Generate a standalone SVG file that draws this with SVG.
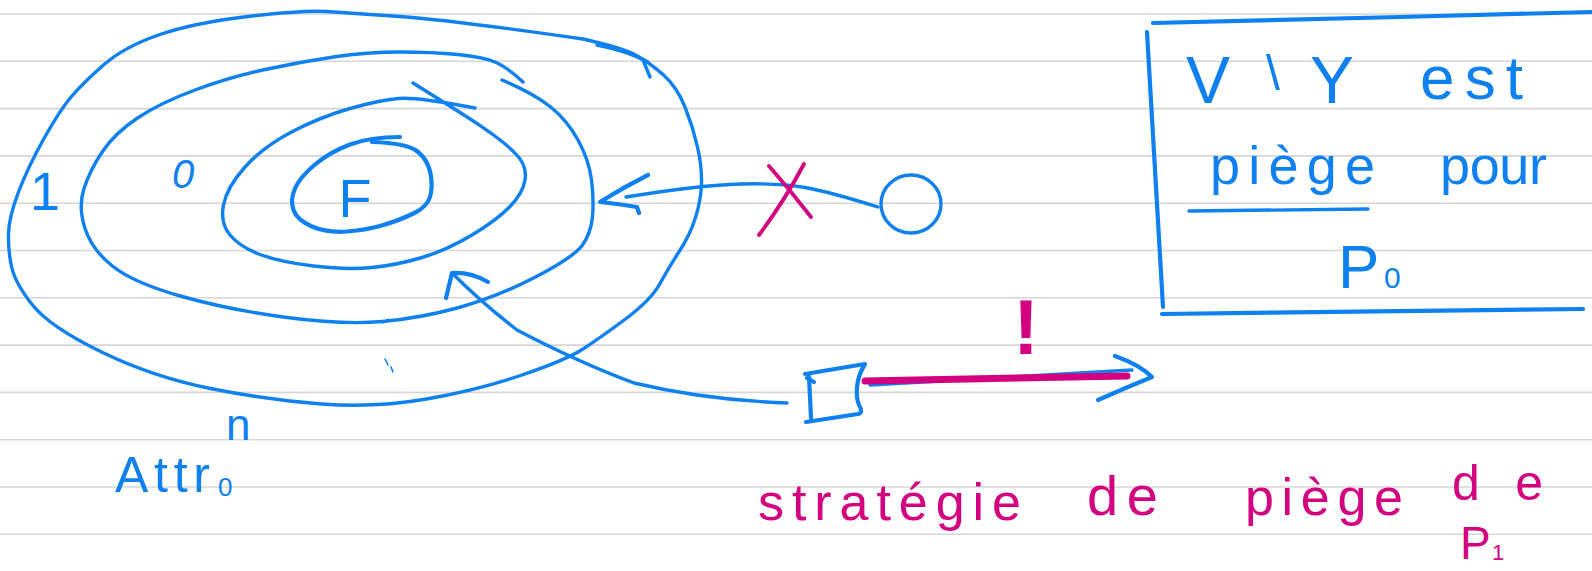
<svg xmlns="http://www.w3.org/2000/svg" width="1592" height="571" viewBox="0 0 1592 571">
<style>
.rule{stroke:#d6d6d6;stroke-width:1.6}
.b{fill:none;stroke:#0f80f0;stroke-width:3.4;stroke-linecap:round;stroke-linejoin:round}
.bt{fill:none;stroke:#0f80f0;stroke-width:4.2;stroke-linecap:round;stroke-linejoin:round}
.m{fill:none;stroke:#d3007f;stroke-width:3.8;stroke-linecap:round;stroke-linejoin:round}
.tb{fill:#0f80f0;font-family:"Liberation Sans",Arial,sans-serif}
.tm{fill:#d3007f;font-family:"Liberation Sans",Arial,sans-serif}
</style>
<rect width="1592" height="571" fill="#ffffff"/>
<g id="paper">
<line class="rule" x1="0" y1="14" x2="1592" y2="14"/>
<line class="rule" x1="0" y1="61.3" x2="1592" y2="61.3"/>
<line class="rule" x1="0" y1="108.6" x2="1592" y2="108.6"/>
<line class="rule" x1="0" y1="155.9" x2="1592" y2="155.9"/>
<line class="rule" x1="0" y1="203.2" x2="1592" y2="203.2"/>
<line class="rule" x1="0" y1="250.5" x2="1592" y2="250.5"/>
<line class="rule" x1="0" y1="297.8" x2="1592" y2="297.8"/>
<line class="rule" x1="0" y1="345.1" x2="1592" y2="345.1"/>
<line class="rule" x1="0" y1="392.4" x2="1592" y2="392.4"/>
<line class="rule" x1="0" y1="439.7" x2="1592" y2="439.7"/>
<line class="rule" x1="0" y1="487" x2="1592" y2="487"/>
<line class="rule" x1="0" y1="534.3" x2="1592" y2="534.3"/>
</g>
<g id="ring-outer">
<path class="b" d="M583,39 Q623,48 636.5,55.5 Q650,63 663.5,75 Q677,87 685,107 Q693,127 697.5,147 Q702,167 701.5,183.5 Q701,200 695.5,217.5 Q690,235 679.5,251 Q669,267 660,283.5 Q651,300 625.5,319 Q600,338 583,349 Q566,360 522,375 Q478,390 426.5,399 Q375,408 321.5,404 Q268,400 210.5,388.5 Q153,377 101.5,352 Q50,327 32.5,305 Q15,283 11.5,266.5 Q8,250 8.5,233.5 Q9,217 18.5,192 Q28,167 44,138.5 Q60,110 71.5,96.5 Q83,83 103.5,65 Q124,47 158.5,35 Q193,23 248,16.5 Q303,10 326.5,11.5 Q350,13 400,16.5 Q450,20 583,39"/>
<path class="b" d="M597,45 Q628,51 648,62 M643,60 L650,77"/>
<text class="tb" x="45" y="210" font-size="54" text-anchor="middle">1</text>
</g>
<g id="ring-2">
<path class="b" d="M523,82 Q507,67 495,62 Q483,57 458,54.5 Q433,52 400,52 Q367,52 333.5,57 Q300,62 265,69.5 Q230,77 195,90 Q160,103 137.5,118 Q115,133 102.5,151.5 Q90,170 84,188.5 Q78,207 85,228.5 Q92,250 113,266.5 Q134,283 182,296.5 Q230,310 287,317.5 Q344,325 382.5,321.5 Q421,318 459,307.5 Q497,297 535.5,277 Q574,257 582.5,245 Q591,233 592.5,216.5 Q594,200 591.5,180 Q589,160 578,140 Q567,120 550,106.5 Q533,93 502,80"/>
<text class="tb" x="183" y="188" font-size="40" font-style="italic" text-anchor="middle">0</text>
</g>
<g id="ring-3">
<path class="b" d="M475,108 Q417,97 398.5,98.5 Q380,100 350,108.5 Q320,117 291.5,132 Q263,147 245,167 Q227,187 223.5,205 Q220,223 230,235 Q240,247 260,254.5 Q280,262 313.5,266 Q347,270 372,267.5 Q397,265 422,257.5 Q447,250 472,235 Q497,220 510,206.5 Q523,193 525,180 Q527,167 518.5,157 Q510,147 493.5,135 Q477,123 458.5,111.5 Q440,100 413,83"/>
</g>
<g id="ring-F">
<path class="bt" d="M372,142 Q407,143 417.5,151.5 Q428,160 430.5,173.5 Q433,187 430,197 Q427,207 413.5,213.5 Q400,220 383.5,225 Q367,230 347,231.5 Q327,233 312,226.5 Q297,220 293.5,210 Q290,200 295,188.5 Q300,177 315,164.5 Q330,152 350,144.5 Q370,137 400,137"/>
<text class="tb" x="355" y="217" font-size="54" text-anchor="middle">F</text>
</g>
<g id="marks">
<path class="b" style="stroke-width:1.6" d="M383,323 L388,319 M385,359 L388,365 M391,367 L393,372"/>
</g>
<g id="node-circle">
<ellipse class="b" cx="911" cy="204" rx="30" ry="29"/>
</g>
<g id="node-square">
<path class="bt" d="M805,374 L865,364 C856,378 855,395 859,405 C862,410 862,413 858,414 L806,422 M809,376 L811,418 M807,378 L814,382"/>
</g>
<g id="connectors">
<path class="b" d="M878,207 Q830,192 805,187.5 Q780,183 740.5,184 Q701,185 626,197"/>
<path class="bt" d="M648,175 Q624,187 600,202 Q620,204 637,207 L639,213"/>
<path class="m" d="M769,166 Q790,190 811,217 M804,164 Q785,200 759,235"/>
<path class="b" d="M787,403 Q705,400 634,383 Q580,363 517,330 Q482,303 452,273"/>
<path class="bt" d="M446,298 L452,273 Q471,272 488,282"/>
<path class="b" d="M870,385 L1132,370"/>
<path class="bt" d="M1115,356 Q1140,365 1152,377 Q1125,388 1098,400"/>
<path class="m" style="stroke-width:7" d="M865,381 L1127,376"/>
<text class="tm" x="1026" y="354" font-size="78" font-weight="bold" text-anchor="middle">!</text>
</g>
<g id="note-box">
<path class="bt" d="M1153,23 L1400,17 L1592,12 M1147,32 L1163,307 M1162,314 L1583,309"/>
<text class="tb" x="1186" y="103" font-size="66">V</text>
<text class="tb" x="1266" y="90" font-size="50">\</text>
<text class="tb" x="1310" y="103" font-size="66">Y</text>
<text class="tb" x="1420" y="99" font-size="62" textLength="103" lengthAdjust="spacing">est</text>
<text class="tb" x="1210" y="184" font-size="54" textLength="165" lengthAdjust="spacing">piège</text>
<text class="tb" x="1440" y="184" font-size="54" textLength="107" lengthAdjust="spacing">pour</text>
<path class="b" d="M1189,211 L1368,209"/>
<text class="tb" x="1338" y="288" font-size="62">P</text>
<text class="tb" x="1384" y="288" font-size="30">0</text>
</g>
<g id="label-attr">
<text class="tb" x="115" y="492" font-size="50" textLength="95" lengthAdjust="spacing">Attr</text>
<text class="tb" x="218" y="496" font-size="26">0</text>
<text class="tb" x="226" y="440" font-size="44">n</text>
</g>
<g id="label-strategy">
<text class="tm" x="758" y="520" font-size="52" textLength="263" lengthAdjust="spacing">stratégie</text>
<text class="tm" x="1087" y="515" font-size="56" textLength="71" lengthAdjust="spacing">de</text>
<text class="tm" x="1245" y="515" font-size="52" textLength="158" lengthAdjust="spacing">piège</text>
<text class="tm" x="1452" y="500" font-size="50" textLength="91" lengthAdjust="spacing">de</text>
<text class="tm" x="1460" y="559" font-size="46">P</text>
<text class="tm" x="1492" y="560" font-size="22">1</text>
</g>
</svg>
